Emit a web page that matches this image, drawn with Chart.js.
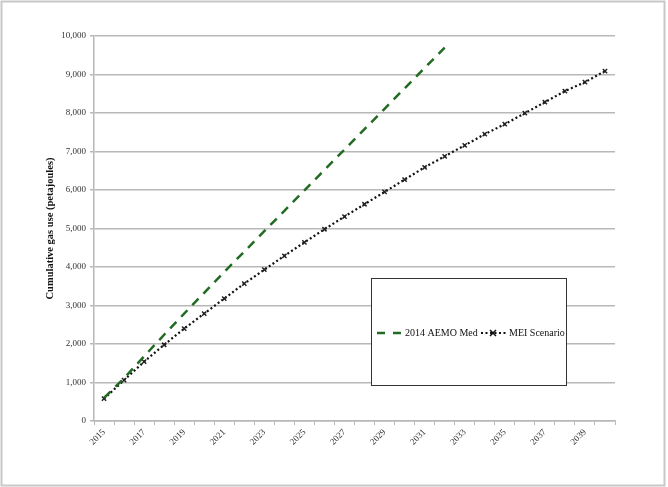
<!DOCTYPE html>
<html lang="en">
<head>
  <meta charset="UTF-8">
  <title>Cumulative gas use</title>
  <script src="https://cdn.jsdelivr.net/npm/chart.js"></script>
  <style>
    body {
      margin: 0;
      background: #ffffff;
    }
    canvas {
      display: block;
    }
  </style>
</head>
<body>
  <canvas id="grafico" width="668" height="487"></canvas>

  <script>
    const years = ['2015', '2016', '2017', '2018', '2019', '2020', '2021', '2022', '2023',
      '2024', '2025', '2026', '2027', '2028', '2029', '2030', '2031', '2032', '2033',
      '2034', '2035', '2036', '2037', '2038', '2039', '2040'];
    const tickYears = ['2015', '2017', '2019', '2021', '2023', '2025', '2027', '2029',
      '2031', '2033', '2035', '2037', '2039'];
    // 2014 AEMO Med, 2015-2032
    const aemoMed = [600, 1110, 1680, 2240, 2790, 3330, 3870, 4400, 4930, 5460,
      5990, 6520, 7050, 7580, 8110, 8640, 9170, 9700];
    // MEI Scenario, 2015-2040
    const meiScenario = [580, 1060, 1540, 1980, 2400, 2790, 3180, 3570, 3930, 4290,
      4640, 4980, 5310, 5630, 5950, 6270, 6590, 6875, 7160, 7450,
      7710, 7995, 8280, 8570, 8800, 9090];
    const yTicks = [0, 1000, 2000, 3000, 4000, 5000, 6000, 7000, 8000, 9000, 10000];

    const serif = "'Liberation Serif', 'DejaVu Serif', serif";
    const gridGray = '#b8b8b8';

    // fundo branco + moldura cinza
    const moldura = {
      id: 'moldura',
      beforeDraw(chart) {
        const c = chart.ctx;
        c.save();
        c.fillStyle = '#ffffff';
        c.fillRect(0, 0, chart.width, chart.height);
        c.strokeStyle = '#c8c8c8';
        c.lineWidth = 2;
        c.strokeRect(1.5, 1.5, chart.width - 5, chart.height - 3);
        c.restore();
      }
    };

    // legenda em caixa dentro da área do gráfico
    const legendaCaixa = {
      id: 'legendaCaixa',
      afterDraw(chart) {
        const c = chart.ctx;
        const bx = 371, by = 278, bw = 195, bh = 107;
        c.save();
        c.fillStyle = '#ffffff';
        c.fillRect(bx, by, bw, bh);
        c.strokeStyle = '#333333';
        c.lineWidth = 1;
        c.strokeRect(bx + 0.5, by + 0.5, bw, bh);

        const cy = by + 55;
        c.font = '10px ' + serif;
        c.textBaseline = 'middle';
        c.textAlign = 'left';

        const ds = chart.data.datasets;
        // amostra verde tracejada
        c.strokeStyle = ds[0].borderColor;
        c.lineWidth = 2.5;
        c.setLineDash([8, 8]);
        c.beginPath();
        c.moveTo(377, cy);
        c.lineTo(401, cy);
        c.stroke();
        c.fillStyle = '#111111';
        c.fillText(ds[0].label, 405, cy);

        // amostra pontilhada com marcador
        c.strokeStyle = ds[1].borderColor;
        c.lineWidth = 2;
        c.setLineDash([2, 2.5]);
        c.beginPath();
        c.moveTo(481, cy);
        c.lineTo(506, cy);
        c.stroke();
        c.setLineDash([]);
        c.lineWidth = 1.5;
        const r = 3;
        c.beginPath();
        c.moveTo(493 - r, cy - r); c.lineTo(493 + r, cy + r);
        c.moveTo(493 + r, cy - r); c.lineTo(493 - r, cy + r);
        c.stroke();
        c.fillText(ds[1].label, 509, cy);
        c.restore();
      }
    };

    const ctx = document.getElementById('grafico').getContext('2d');
    new Chart(ctx, {
      type: 'line',
      data: {
        labels: years,
        datasets: [
          {
            label: '2014 AEMO Med',
            data: aemoMed,
            borderColor: '#226b22',
            borderWidth: 2.5,
            borderDash: [9, 7],
            pointRadius: 0,
            fill: false,
            tension: 0
          },
          {
            label: 'MEI Scenario',
            data: meiScenario,
            borderColor: '#111111',
            borderWidth: 2.2,
            borderDash: [2, 2.5],
            pointStyle: 'crossRot',
            pointRadius: 3,
            pointBorderWidth: 1.5,
            pointBorderColor: '#222222',
            fill: false,
            tension: 0
          }
        ]
      },
      options: {
        responsive: false,
        animation: false,
        layout: {
          padding: { top: 36, right: 53, left: 0, bottom: 0 }
        },
        plugins: {
          legend: { display: false },
          title: { display: false },
          tooltip: { enabled: false }
        },
        scales: {
          x: {
            offset: true,
            grid: {
              offset: true,
              drawOnChartArea: false,
              drawTicks: true,
              tickLength: 4,
              color: gridGray
            },
            border: { color: gridGray, width: 1.5 },
            ticks: {
              autoSkip: false,
              minRotation: 45,
              maxRotation: 45,
              padding: 2,
              color: '#333333',
              font: { family: serif, size: 9 },
              callback: function (value) {
                const lab = this.getLabelForValue(value);
                return tickYears.includes(lab) ? lab : '';
              }
            },
            afterFit: function (scale) { scale.height = 66; }
          },
          y: {
            min: 0,
            max: 10000,
            afterBuildTicks: function (scale) {
              scale.ticks = yTicks.map(v => ({ value: v }));
            },
            grid: {
              color: gridGray,
              lineWidth: 1.5,
              drawTicks: true,
              tickLength: 4
            },
            border: { color: gridGray, width: 1.5 },
            ticks: {
              padding: 4,
              color: '#333333',
              font: { family: serif, size: 9 },
              callback: v => v.toLocaleString('en-US')
            },
            title: {
              display: true,
              text: 'Cumulative gas use (petajoules)',
              color: '#111111',
              font: { family: serif, size: 10.5, weight: 'bold' },
              padding: { top: 44, bottom: 0 }
            },
            afterFit: function (scale) { scale.width = 94; }
          }
        }
      },
      plugins: [moldura, legendaCaixa]
    });
  </script>
</body>
</html>
